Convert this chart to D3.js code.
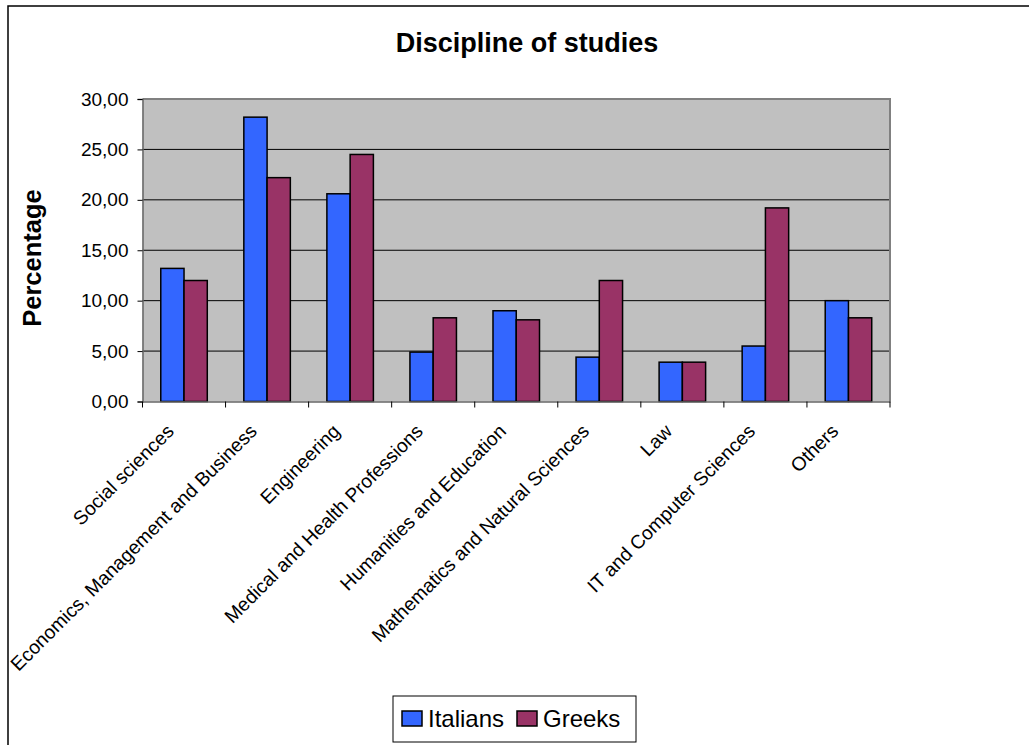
<!DOCTYPE html>
<html><head><meta charset="utf-8">
<script src="https://cdn.jsdelivr.net/npm/d3@7"></script>
<style>body{margin:0;background:#fff}svg{display:block}text{font-family:"Liberation Sans",Arial,sans-serif}</style>
</head><body>
<svg id="c" width="1029" height="745"></svg>
<script>
const categories = ["Social sciences","Economics, Management and Business","Engineering","Medical and Health Professions","Humanities and Education","Mathematics and Natural Sciences","Law","IT and Computer Sciences","Others"];
const seriesNames = ["Italians","Greeks"];
const italians = [13.2,28.2,20.6,4.9,9.0,4.4,3.9,5.5,10.0];
const greeks = [12.0,22.2,24.5,8.3,8.1,12.0,3.9,19.2,8.3];
const yTicks = [0,5,10,15,20,25,30];
const colors = ["#3366FF","#993366"];

const svg = d3.select("#c");
// outer chart border
svg.append("rect").attr("x",8).attr("y",6).attr("width",1100).attr("height",800)
  .attr("fill","#fff").attr("stroke","#000").attr("stroke-width",1.5);

const L=142.5,R=890,T=99,B=401.5;
const x = d3.scaleBand().domain(categories).range([L,R]).paddingInner(0).paddingOuter(0);
const y = d3.scaleLinear().domain([0,30]).range([B,T]);

svg.append("rect").attr("x",L).attr("y",T).attr("width",R-L).attr("height",B-T).attr("fill","#C0C0C0");
// gridlines
svg.append("g").selectAll("line").data(yTicks.filter(d=>d>0&&d<30)).join("line")
  .attr("x1",L).attr("x2",R).attr("y1",d=>y(d)).attr("y2",d=>y(d)).attr("stroke","#000").attr("stroke-width",1);
// plot border top/right
svg.append("path").attr("d",`M${L},${T}H${R}V${B}`).attr("fill","none").attr("stroke","#808080").attr("stroke-width",2);

// bars
const bw = x.bandwidth()*0.28;
const data = [italians,greeks];
data.forEach((vals,si)=>{
  svg.append("g").selectAll("rect").data(vals).join("rect")
    .attr("x",(d,i)=>x(categories[i])+x.bandwidth()/2-bw+si*bw)
    .attr("y",d=>y(d)).attr("width",bw).attr("height",d=>y(0)-y(d))
    .attr("fill",colors[si]).attr("stroke","#000").attr("stroke-width",1.5);
});

// y axis
const ya = svg.append("g").attr("transform",`translate(${L},0)`)
  .call(d3.axisLeft(y).tickValues(yTicks).tickSize(5).tickPadding(9).tickFormat(d=>d3.format(".2f")(d).replace(".",",")));
ya.select(".domain").attr("stroke","#666").attr("stroke-width",1.5);
ya.selectAll(".tick line").attr("stroke","#000");
ya.selectAll("text").attr("font-size",19).attr("fill","#000").style("font-family","Liberation Sans, Arial, sans-serif");

// x axis
const xa = svg.append("g").attr("transform",`translate(0,${B})`)
  .call(d3.axisBottom(x).tickSize(0).tickFormat(""));
xa.select(".domain").attr("stroke","#666").attr("stroke-width",1.5);
const bounds = categories.map(c=>x(c)).concat([R]);
svg.append("g").selectAll("line").data(bounds).join("line")
  .attr("x1",d=>d).attr("x2",d=>d).attr("y1",B).attr("y2",B+6).attr("stroke","#000").attr("stroke-width",1);
svg.append("g").selectAll("text").data(categories).join("text")
  .attr("transform",d=>`translate(${x(d)+x.bandwidth()/2-9},${B+31}) rotate(-45)`)
  .attr("text-anchor","end").attr("font-size",19.3).attr("fill","#000").text(d=>d);

// title
svg.append("text").attr("x",527).attr("y",52).attr("text-anchor","middle")
  .attr("font-size",27).attr("font-weight","bold").text("Discipline of studies");
// y label
svg.append("text").attr("transform","translate(41,258) rotate(-90)").attr("text-anchor","middle")
  .attr("font-size",25.5).attr("font-weight","bold").text("Percentage");

// legend
const lg = svg.append("g");
lg.append("rect").attr("x",393).attr("y",696).attr("width",243).attr("height",46).attr("fill","#fff").attr("stroke","#000").attr("stroke-width",1);
const lx=[402,517], tx=[428,543];
seriesNames.forEach((n,i)=>{
  lg.append("rect").attr("x",lx[i]).attr("y",711).attr("width",20).attr("height",15).attr("fill",colors[i]).attr("stroke","#000").attr("stroke-width",1.5);
  lg.append("text").attr("x",tx[i]).attr("y",727).attr("font-size",24).text(n);
});
</script>
</body></html>
